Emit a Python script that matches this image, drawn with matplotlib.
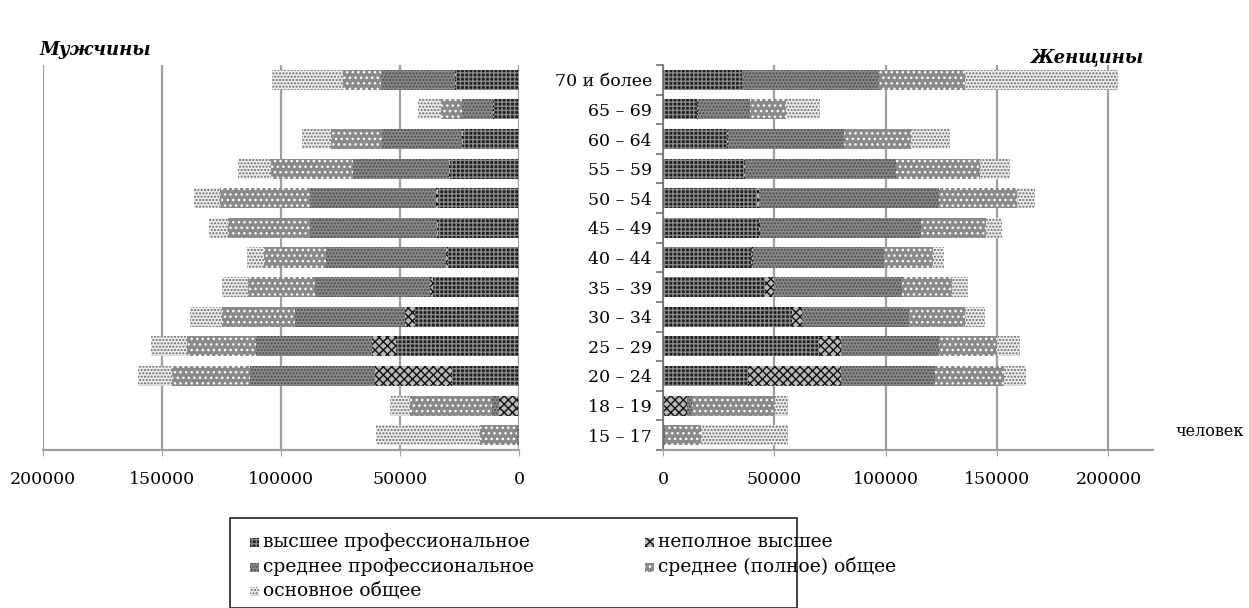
import matplotlib
matplotlib.use("Agg")
import matplotlib.pyplot as plt
import numpy as np
from matplotlib.patches import Rectangle

plt.rcParams['font.family'] = ['DejaVu Serif', 'Liberation Serif']
plt.rcParams['hatch.linewidth'] = 1.0

ages = ['15 – 17', '18 – 19', '20 – 24', '25 – 29', '30 – 34', '35 – 39', '40 – 44',
        '45 – 49', '50 – 54', '55 – 59', '60 – 64', '65 – 69', '70 и более']
series_names = ['высшее профессиональное', 'неполное высшее', 'среднее профессиональное',
                'среднее (полное) общее', 'основное общее']

men_higher = [0, 500, 28000, 51500, 43800, 36100, 29800, 34000, 34000, 29100, 23500, 10600, 26600]
men_incomplete = [0, 8000, 32600, 10100, 4200, 1500, 1000, 600, 800, 500, 300, 300, 500]
men_sec_prof = [1000, 3000, 52500, 48700, 46200, 48300, 50400, 53200, 52900, 40300, 33600, 12900, 30700]
men_sec_full = [15500, 34500, 32900, 29400, 30800, 28000, 25900, 34300, 37800, 34300, 21700, 9100, 16000]
men_basic = [43400, 8400, 14000, 15100, 13300, 10800, 7000, 8000, 11200, 14000, 11900, 9700, 29800]

women_higher = [0, 0, 38300, 70000, 58000, 46000, 39300, 43000, 42300, 36300, 28800, 15400, 35300]
women_incomplete = [0, 10900, 41400, 9700, 4500, 3700, 1000, 700, 700, 500, 300, 300, 300]
women_sec_prof = [1000, 2000, 42600, 44100, 47800, 57500, 59000, 72000, 80700, 67600, 52300, 23200, 61600]
women_sec_full = [15900, 37600, 30600, 26200, 25400, 22400, 21700, 29100, 35100, 38100, 29900, 16400, 38600]
women_basic = [39300, 5700, 10000, 10500, 9000, 7500, 5200, 7500, 8200, 13500, 17500, 15400, 68300]

x_ticks = [0, 50000, 100000, 150000, 200000]

styles = [
    dict(facecolor='#1e1e1e', edgecolor='#8a8a8a', hatch='++++'),
    dict(facecolor='#b8b8b8', edgecolor='#111111', hatch='xxxx'),
    dict(facecolor='#8a8a8a', edgecolor='#4a4a4a', hatch='.....'),
    dict(facecolor='#8a8a8a', edgecolor='#ffffff', hatch='...'),
    dict(facecolor='#ededed', edgecolor='#6a6a6a', hatch='.....'),
]

W, H = 1249, 608
fig = plt.figure(figsize=(W / 100, H / 100), dpi=100)

def ax_rect(x0, x1, y0, y1):
    return [x0 / W, 1 - y1 / H, (x1 - x0) / W, (y1 - y0) / H]

axL = fig.add_axes(ax_rect(43, 519, 65, 450))
axR = fig.add_axes(ax_rect(663, 1153, 65, 450))

y = np.arange(len(ages))
bar_h = 0.68

for ax, data in ((axL, [men_higher, men_incomplete, men_sec_prof, men_sec_full, men_basic]),
                 (axR, [women_higher, women_incomplete, women_sec_prof, women_sec_full, women_basic])):
    left = np.zeros(len(ages))
    for vals, st, name in zip(data, styles, series_names):
        v = np.array(vals, dtype=float)
        ax.barh(y, v, left=left, height=bar_h, linewidth=0, label=name, **st)
        left += v
    ax.set_ylim(-0.5, len(ages) - 0.5)
    ax.set_xticks(x_ticks)
    ax.set_xticklabels([str(t) for t in x_ticks], fontsize=12.5)
    ax.xaxis.grid(True, color='#a0a0a0', linewidth=1.6)
    ax.set_axisbelow(True)
    for s in ('top', 'right'):
        ax.spines[s].set_visible(False)
    ax.spines['bottom'].set_color('#a0a0a0')
    ax.spines['bottom'].set_linewidth(1.6)
    ax.tick_params(axis='x', length=4, color='#a0a0a0', pad=11)

axL.set_xlim(200000, 0)
axL.spines['left'].set_visible(False)
axL.set_yticks([])

axR.set_xlim(0, 220000)
axR.spines['left'].set_color('#707070')
axR.spines['left'].set_linewidth(1.2)
axR.set_yticks(y)
axR.set_yticklabels(ages, fontsize=12.5)
axR.set_yticks(np.arange(-0.5, len(ages), 1.0), minor=True)
axR.tick_params(axis='y', which='major', length=0, pad=8)
axR.tick_params(axis='y', which='minor', length=5, color='#707070', width=1.2)

fig.text(40 / W, 1 - 50 / H, 'Мужчины', fontsize=13, fontweight='bold', fontstyle='italic',
         ha='left', va='center')
fig.text(1030 / W, 1 - 57 / H, 'Женщины', fontsize=13, fontweight='bold', fontstyle='italic',
         ha='left', va='center')
fig.text(1175 / W, 1 - 432 / H, 'человек', fontsize=11.5, ha='left', va='center')

# legend box
fig.patches.append(Rectangle((230 / W, 0), (797 - 230) / W, 1 - 518 / H,
                             transform=fig.transFigure, fill=False, edgecolor='#222222',
                             linewidth=1.2))
order = [(0, 250, 542), (1, 645, 542), (2, 250, 567), (3, 645, 567), (4, 250, 591)]
for idx, px, py in order:
    st = styles[idx]
    fig.patches.append(Rectangle((px / W, 1 - (py + 4.5) / H), 9 / W, 9 / H,
                                 transform=fig.transFigure, linewidth=0, **st))
    fig.text((px + 13) / W, 1 - py / H, series_names[idx], fontsize=13.5, ha='left', va='center')

fig.savefig('out.png', dpi=100)
